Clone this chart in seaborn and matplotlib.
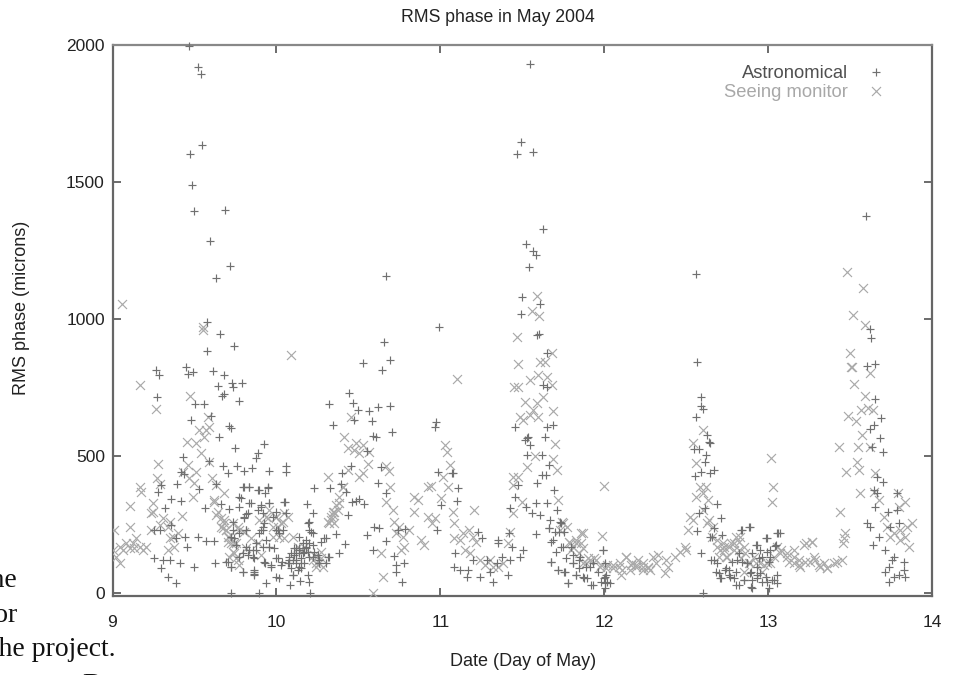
import numpy as np
import pandas as pd
import matplotlib
matplotlib.use("Agg")
import matplotlib.pyplot as plt
import seaborn as sns

TITLE = "RMS phase in May 2004"
XLABEL = "Date (Day of May)"
YLABEL = "RMS phase (microns)"
x_ticks = [9, 10, 11, 12, 13, 14]
y_ticks = [0, 500, 1000, 1500, 2000]

astro_points = [
(9.464,1996),(9.52,1921),(9.541,1893),(9.545,1637),(9.47,1601),(9.484,1489),(9.50,1395),(9.688,1397),(9.594,1285),(9.718,1194),(9.629,1149),(10.667,1156),(9.574,988),
(11.547,1929),(11.495,1645),(11.467,1602),(11.563,1608),(11.625,1329),(11.52,1274),(11.565,1248),(11.584,1235),(11.54,1190),(11.50,1080),(11.609,1054),(11.49,1020),(10.99,972),(12.562,1163),(13.598,1377),(13.62,964),
(9.577,884),(9.654,946),(9.742,903),(9.266,814),(9.283,796),(9.27,717),(9.449,826),(9.459,800),(9.49,806),(9.612,812),(9.681,796),(9.644,756),(9.73,768),(9.734,754),(9.789,768),(9.683,726),(9.667,721),(9.77,701),(9.506,690),(9.557,689),(9.60,647),(9.48,632),(9.713,611),(9.723,603),(9.648,571),(9.748,529),(9.923,543),(9.886,510),(9.876,492),(9.429,498),(9.591,482),(9.673,465),(9.76,464),(9.703,440),(9.805,446),(9.852,457),(9.957,446),(10.059,464),(10.059,444),(9.415,444),(9.435,435),(9.297,395),(9.276,368),(9.392,399),(9.53,379),(9.632,397),(9.358,343),(9.419,337),(9.321,310),(9.565,310),(9.663,324),(9.709,307),(9.795,386),(9.835,386),(9.892,377),(9.947,386),(9.931,365),(9.785,346),(9.846,328),(9.774,316),(9.907,316),(9.957,331),(10.053,334),(9.815,289),(9.805,279),(9.917,292),
(10.187,324),(10.222,292),(10.195,257),(10.232,385),(10.327,385),(10.398,437),(10.455,464),(10.445,729),(10.47,693),(10.496,668),(10.563,664),(10.618,678),(10.695,683),(10.581,630),(10.473,632),(10.705,589),(10.323,689),(10.343,615),(10.526,839),(10.644,813),(10.655,916),(10.693,851),(10.608,569),(10.587,573),(10.553,519),(10.638,459),(10.618,401),(10.669,365),(10.425,368),(10.394,399),(10.486,338),(10.459,334),(10.506,344),(10.537,326),(10.435,286),(10.598,243),(10.628,237),(10.553,213),(10.364,215),(10.419,178),(10.38,146),(10.587,158),(10.669,192),(10.72,137),(10.73,103),(10.73,79),(10.776,109),(10.766,42),(10.74,231),(10.785,233),
(9.72,0),(9.892,0),(10.205,0),(9.388,36),(9.337,61),(9.297,91),(9.307,121),(9.348,121),(9.409,112),(9.252,130),(9.496,97),(9.626,112),(9.703,115),(9.724,97),(9.795,76),(9.862,85),(9.866,69),(9.937,39),(9.998,61),(10.018,55),(10.085,30),(10.146,46),(10.197,42),(9.931,109),(9.967,103),(9.998,128),(10.035,115),(10.079,134),(10.12,121),(10.14,95),(10.1,67),(10.191,67),(10.14,158),(10.16,146),(10.181,170),(10.201,182),(10.222,219),(10.201,231),(10.079,109),(10.12,146),(10.15,109),(10.222,134),(10.262,121),(10.303,109),(10.323,134),(10.303,200),(10.272,188),(9.52,204),(9.571,192),(9.622,191),(9.256,231),(9.287,231),(9.358,249),(9.388,200),(9.445,206),(9.453,168),
(9.734,231),(9.774,219),(9.815,231),(9.724,206),(9.754,176),(9.815,170),(9.876,158),(9.856,134),(9.774,134),(9.876,182),(9.917,170),(9.957,170),(9.998,231),(10.018,219),(10.039,231),(9.917,231),(9.978,279),(9.917,243),(9.937,194),(9.896,219),(9.835,158),(9.795,146),(9.744,200),(9.988,164),
(9.805,389),(9.835,389),(9.886,377),(9.947,383),(9.774,352),(9.835,328),(9.907,322),(9.957,328),(10.049,334),(9.825,292),(9.886,304),(9.734,261),(9.815,231),(9.927,255),(10.008,231),(10.059,292),(9.998,298),(9.805,273),(9.907,231),(9.856,158),(9.825,140),(9.866,128),(9.957,170),(10.008,128),(9.927,115),(9.968,97),(10.029,103),(10.079,121),(10.12,164),(10.161,182),(10.191,152),(10.151,91),(10.1,67),(10.14,207),(10.212,225),(10.2,261),(10.171,152),(10.11,140),(10.232,152),(10.293,200),(10.313,134),(9.693,115),(9.724,97),(9.795,79),(9.866,79),(9.866,67),
(10.069,109),(10.09,146),(10.1,121),(10.12,109),(10.14,146),(10.151,128),(10.181,164),(10.171,109),(10.2,134),(10.13,85),(10.09,91),(10.14,164),(10.11,164),(10.181,194),(10.222,176),(10.252,140),(10.262,109),
(11.593,943),(11.6,945),(11.652,877),(11.628,760),(11.648,753),(11.453,607),(11.526,565),(11.516,559),(11.537,571),(11.547,541),(11.53,504),(11.622,504),(11.648,607),(11.689,614),(11.638,571),(11.663,468),(11.618,431),(11.642,431),(11.591,401),(11.476,395),(11.455,352),(11.425,310),(11.522,316),(11.557,291),(11.583,328),(11.608,285),(11.652,328),(11.695,376),(11.713,304),(11.669,267),(11.73,261),(11.665,237),(11.7,225),(11.583,216),(11.42,219),(11.354,194),(11.354,182),(11.435,170),(11.506,158),(11.486,133),(11.677,115),(11.72,85),(11.78,36),(11.76,79),(11.81,109),(11.85,133),(11.8,170),(11.75,170),(11.689,194),(11.872,60),(11.893,54),(11.83,66),(11.933,30),(11.913,97),(11.994,158),(12.004,109),(12.004,60),(12.004,36),(12.004,18),(12.035,36),(12.014,66),
(11.736,255),(11.756,225),(11.726,225),(11.665,237),(11.675,188),(11.736,170),(11.706,152),(11.767,128),(11.807,140),(11.675,115),(11.716,85),(11.756,79),(11.807,109),(11.848,91),(11.878,55),(11.828,67),(11.777,36),(11.929,109),(11.96,79),(11.99,158),(11.98,42),(12.0,55),(12.02,42),(11.848,121),(11.889,97),(11.919,30),
(10.974,626),(10.967,607),(10.988,443),(11.069,437),(11.079,437),(11.11,383),(11.104,338),(11.002,322),(10.982,231),(11.232,225),(11.252,200),(11.089,146),(11.083,97),(11.12,85),(11.16,60),(11.17,85),(11.242,60),(11.323,42),(11.415,66),(11.282,121),(11.2,121),(11.374,133),(11.425,121),(11.303,79),(11.343,109),
(12.567,843),(12.593,717),(12.593,683),(12.602,672),(12.563,644),(12.628,577),(12.638,553),(12.644,547),(12.547,528),(12.577,528),(12.622,504),(12.618,480),(12.557,428),(12.591,443),(12.648,437),(12.669,449),(12.689,324),(12.577,291),(12.618,310),(12.715,273),(12.567,227),(12.591,146),(12.602,0),(12.669,237),(12.648,206),(12.892,240),(12.841,231),(12.994,200),(12.933,176),(13.059,218),(13.071,218),(13.045,172),(12.699,73),(12.76,85),(12.821,30),(12.902,18),(13.004,18),(13.055,36),(12.709,54),(12.77,60),(12.852,48),(12.933,54),(13.024,48),(12.872,109),(12.811,121),(12.933,97),(13.014,133),(12.963,133),(12.953,73),(12.892,73),(12.79,54),(12.669,121),(12.69,109),(12.74,85),(13.01,158),(12.953,158),
(12.66,207),(12.721,213),(12.833,231),(12.884,241),(12.986,201),(13.057,219),(12.925,176),(12.904,146),(12.996,152),(13.047,176),(12.823,146),(12.782,115),(12.843,115),(12.945,128),(13.006,115),(12.65,121),(12.681,79),(12.742,91),(12.762,67),(12.711,55),(12.803,79),(12.874,109),(12.894,79),(12.935,67),(12.986,61),(13.057,67),(13.036,49),(12.853,49),(12.894,24),(12.803,30),(12.996,42),(12.965,42),(12.904,49),
(13.628,930),(13.604,829),(13.654,835),(13.654,707),(13.689,638),(13.644,614),(13.62,601),(13.681,565),(13.634,535),(13.701,514),(13.665,425),(13.701,407),(13.644,376),(13.665,365),(13.65,316),(13.73,298),(13.787,304),(13.604,255),(13.624,243),(13.746,243),(13.797,255),(13.675,206),(13.64,176),(13.715,158),(13.766,133),(13.827,115),(13.756,121),(13.736,97),(13.715,79),(13.736,42),(13.766,60),(13.797,66),(13.837,60),(13.827,85),(13.787,365),
]

seeing_points = [
(9.06,1055),(9.55,972),(11.588,1086),(11.559,1029),(11.60,1011),(13.483,1172),(13.576,1115),(13.518,1015),(13.594,978),
(9.551,960),(9.169,760),(9.266,672),(10.089,869),(9.473,719),(9.581,642),(9.591,607),(9.53,595),(9.571,595),(9.561,571),(9.51,547),(9.453,551),(9.537,510),(9.591,480),(9.278,470),(9.27,422),(9.287,398),(9.165,389),(9.175,370),(9.108,320),(9.246,328),(9.232,294),(9.246,298),(9.459,468),(9.429,443),(9.51,443),(9.469,419),(9.5,401),(9.49,352),(9.608,422),(9.632,395),(9.683,365),(9.622,340),(9.632,285),(9.683,267),(9.663,243),(9.423,283),(9.307,273),(9.348,261),(9.337,243),(9.287,249),(9.236,231),(9.398,219),(9.368,206),(9.348,200),(9.337,158),(9.378,170),(9.012,231),(9.108,240),
(9.002,158),(9.043,170),(9.022,134),(9.043,109),(9.083,182),(9.124,182),(9.144,200),(9.165,170),(9.185,158),(9.205,170),(9.063,158),(9.104,164),(9.134,164),
(10.313,425),(10.404,389),(10.384,328),(10.354,298),(10.333,267),(10.323,255),(10.344,285),(10.415,571),(10.435,529),(10.486,547),(10.526,541),(10.476,522),(10.506,510),(10.567,516),(10.457,644),(10.557,470),(10.526,437),(10.506,425),(10.435,449),(10.669,464),(10.685,447),(10.693,389),(10.669,334),(10.71,304),(10.652,58),(10.587,0),(10.638,148),(10.72,261),(10.75,243),(10.811,231),(10.77,206),(10.73,219),(10.76,158),(10.78,170),(10.841,352),(10.841,298),(10.862,340),(10.923,389),(10.923,279),(10.882,194),(10.902,176),
(9.734,255),(9.774,231),(9.754,182),(9.703,206),(9.693,231),(9.764,121),(9.744,146),(9.713,134),(9.937,279),(9.998,279),(10.049,292),(10.028,255),(10.018,206),(9.978,243),(9.896,267),(9.957,304),(10.262,109),(10.242,97),(10.272,152),(10.222,121),
(9.622,334),(9.642,298),(9.663,273),(9.683,255),(9.693,231),(9.713,207),(9.724,182),(9.734,152),(9.754,128),(9.774,103),(9.673,237),(9.703,188),(9.744,182),(9.764,243),(9.805,225),(9.845,200),(9.886,182),(9.815,164),(9.907,140),
(9.947,273),(9.998,279),(10.039,261),(10.069,279),(10.008,243),(9.978,207),(10.049,200),(10.1,207),(10.13,170),(10.171,170),(10.232,140),(10.242,109),(10.283,97),(10.273,128),
(10.313,261),(10.333,279),(10.344,298),(10.364,322),(10.384,352),(10.405,389),(10.354,255),(10.374,304),
(11.465,936),(11.472,835),(11.104,783),(11.451,753),(11.476,751),(11.679,875),(11.638,842),(11.608,845),(11.547,778),(11.598,796),(11.648,790),(11.679,759),(11.628,717),(11.516,699),(11.587,693),(11.567,668),(11.547,650),(11.486,644),(11.506,632),(11.598,642),(11.685,665),(11.699,544),(11.689,488),(11.709,449),(11.53,459),(11.577,500),(11.445,425),(11.476,425),(11.445,395),(11.496,334),(11.445,291),(11.72,340),
(11.028,541),(11.043,516),(11.059,468),(11.018,425),(11.049,389),(11.002,346),(11.075,297),(11.083,255),(11.083,203),(11.207,304),(10.943,391),(10.967,273),(10.947,255),(11.177,231),(11.14,219),(11.12,194),(11.2,206),(11.15,158),(11.18,146),(11.22,188),(11.425,225),(11.415,182),(11.242,121),(11.272,103),(11.323,97),(11.354,97),(11.384,109),(11.303,121),
(11.998,391),(11.984,209),(11.868,219),(11.74,261),(11.77,243),(11.73,231),(11.79,182),(11.83,194),(11.86,182),(11.81,170),(11.913,121),(11.953,121),(11.974,97),(12.014,91),(11.872,109),
(11.746,255),(11.787,188),(11.828,182),(11.858,219),(11.868,164),(11.899,128),(11.939,128),(11.889,109),(11.848,146),(11.797,158),(12.02,103),(12.102,67),(12.133,134),(12.092,97),(12.051,103),(12.163,103),(12.194,97),(12.234,97),(12.265,91),(11.98,103),
(12.055,91),(12.106,85),(12.136,134),(12.167,109),(12.207,121),(12.238,85),(12.268,97),(12.299,134),(12.329,140),(12.319,109),(12.37,73),(12.39,97),(12.431,134),(12.461,152),(12.492,170),(12.502,158),(12.197,103),(12.238,109),(12.278,85),(12.156,85),(12.096,109),(12.376,121),(12.512,231),(12.543,267),(12.522,279),(12.543,547),(12.563,474),(12.563,352),(12.604,365),(12.634,340),(12.624,389),(12.583,389),(12.604,304),(12.665,243),(12.726,182),(12.705,158),(12.746,134),(12.604,595),
(12.64,267),(12.63,255),(12.691,170),(12.731,158),(12.772,182),(12.803,207),(12.823,188),(12.853,170),(12.701,134),(12.752,134),(12.792,158),(12.833,128),(12.884,109),(12.925,109),(12.975,103),(13.036,134),(13.077,158),(13.118,146),(13.158,134),(13.189,103),(13.128,115),(13.23,182),(13.27,188),(13.28,134),(13.31,103),(13.362,91),(12.853,79),(12.965,79),
(13.502,877),(13.512,824),(13.508,826),(13.62,802),(13.522,763),(13.591,720),(13.488,648),(13.565,668),(13.612,674),(13.642,668),(13.537,629),(13.575,577),(13.431,532),(13.549,532),(13.624,535),(13.545,480),(13.478,443),(13.557,449),(13.65,437),(13.563,367),(13.644,370),(13.675,340),(13.437,297),(13.472,218),(13.461,200),(13.457,182),(13.79,365),(13.837,334),(13.797,316),(13.878,257),(13.705,279),(13.726,243),(13.766,218),(13.807,231),(13.848,243),(13.746,206),(13.807,194),(13.858,170),(13.837,206),
(13.268,188),(13.222,176),(13.157,158),(13.116,133),(13.197,97),(13.258,115),(13.319,97),(13.36,91),(13.4,109),(13.451,121),(13.157,109),(13.075,146),(13.187,121),(13.228,115),(13.289,121),(13.34,109),(13.421,115),(13.018,495),(13.03,389),(13.024,334),
(12.831,206),(12.79,182),(12.73,170),(12.69,194),(12.659,206),(12.76,170),(12.821,158),(12.862,146),(12.913,133),(12.953,109),(13.014,109),(13.055,170),(12.994,109),(12.892,109),
]

astro = pd.DataFrame(astro_points, columns=["day", "rms"])
seeing = pd.DataFrame(seeing_points, columns=["day", "rms"])

W, H = 962, 675
sns.set_theme(style="white")
plt.rcParams["font.family"] = ["Liberation Sans", "DejaVu Sans"]
fig = plt.figure(figsize=(W / 100, H / 100), dpi=100)
L, R, T, B = 112.5, 932, 45, 596
ax = fig.add_axes([L / W, 1 - B / H, (R - L) / W, (B - T) / H])

PLUS = "#707070"
CROSS = "#aaaaaa"
sns.scatterplot(data=seeing, x="day", y="rms", marker="x", s=42, color=CROSS,
                linewidth=0.85, ax=ax, clip_on=True, zorder=3)
sns.scatterplot(data=astro, x="day", y="rms", marker="+", s=36, color=PLUS,
                linewidth=0.85, ax=ax, clip_on=False, zorder=4)

ax.set_xlim(9, 14)
ax.set_ylim(-10, 2000)
ax.set_xticks(x_ticks)
ax.set_yticks(y_ticks)
ax.tick_params(axis="both", which="major", direction="in", length=6, width=1.1,
               color="#444444", labelcolor="#222222", labelsize=12.5,
               top=True, right=True, bottom=True, left=True)
ax.tick_params(axis="x", pad=14)
ax.tick_params(axis="y", pad=5.5)
for s in ax.spines.values():
    s.set_visible(True)
    s.set_color("#666666")
    s.set_linewidth(1.6)
ax.spines["top"].set_color("#888888")

ax.set_xlabel("")
ax.set_ylabel("")
txt = "#222222"
fig.text(498 / W, 1 - 17 / H, TITLE, ha="center", va="center", fontsize=12.7, color=txt)
fig.text(523 / W, 1 - 662 / H, XLABEL, ha="center", va="center", fontsize=13, color=txt)
fig.text(22 / W, 1 - 308 / H, YLABEL, ha="center", va="center", rotation=90, fontsize=13, color=txt)

# legend
fig.text(848 / W, 1 - 74 / H, "Astronomical", ha="right", va="center", fontsize=13.2, color="#505050")
fig.text(848 / W, 1 - 92.5 / H, "Seeing monitor", ha="right", va="center", fontsize=13.2, color="#a8a8a8")
leg_ax = fig.add_axes([0, 0, 1, 1], facecolor="none")
leg_ax.set_xlim(0, W); leg_ax.set_ylim(H, 0); leg_ax.axis("off")
leg_ax.scatter([876], [72], marker="+", s=36, color=PLUS, linewidth=0.85)
leg_ax.scatter([876], [91], marker="x", s=42, color=CROSS, linewidth=0.85)

# body text of the page, cropped by the scan edge
serif = {"family": "Liberation Serif", "fontsize": 20, "color": "#111111", "va": "baseline"}
fig.text(18 / W, 1 - 587 / H, "the", ha="right", **serif)
fig.text(17 / W, 1 - 621.5 / H, "for", ha="right", **serif)
fig.text(116 / W, 1 - 656.5 / H, "the project.", ha="right", **serif)
fig.text(82 / W, 1 - 691.5 / H, "D", ha="left", **serif)

fig.savefig("out.png", dpi=100)
